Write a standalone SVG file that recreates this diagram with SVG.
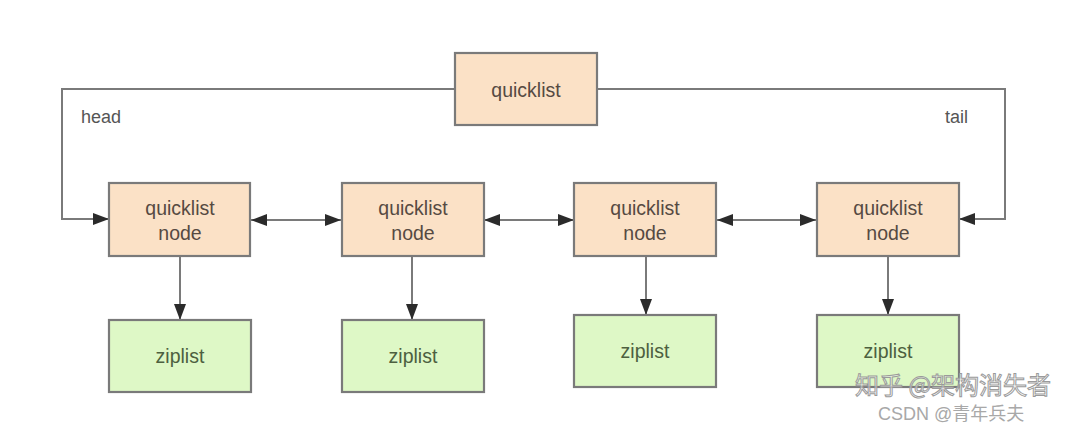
<svg xmlns="http://www.w3.org/2000/svg" width="1080" height="431" viewBox="0 0 1080 431">
<defs>
<marker id="arr" viewBox="0 0 16 12" refX="16" refY="6" markerWidth="16" markerHeight="12" markerUnits="userSpaceOnUse" orient="auto-start-reverse">
<path d="M0,0 L16,6 L0,12 Z" fill="#2b2b2b"/>
</marker>
<style>
.qn{fill:#fbe1c6;stroke:#7a7a7a;stroke-width:2.2}
.zl{fill:#def8c6;stroke:#7a7a7a;stroke-width:2.2}
.t{font-family:"Liberation Sans",Arial,sans-serif;font-size:19.5px;fill:#564a42;text-anchor:middle}
.zt{font-family:"Liberation Sans",Arial,sans-serif;font-size:19.5px;fill:#4d6040;text-anchor:middle}
.lb{font-family:"Liberation Sans",Arial,sans-serif;font-size:18px;fill:#555}
.c{fill:none;stroke:#7a7a7a;stroke-width:2}
</style>
</defs>
<rect width="1080" height="431" fill="#ffffff"/>
<g id="connectors">
<path class="c" d="M455,89 H62 V219 H109" marker-end="url(#arr)"/>
<path class="c" d="M597,89 H1005 V219 H959" marker-end="url(#arr)"/>
<line class="c" x1="251" y1="220" x2="341" y2="220" marker-start="url(#arr)" marker-end="url(#arr)"/>
<line class="c" x1="484" y1="220" x2="574" y2="220" marker-start="url(#arr)" marker-end="url(#arr)"/>
<line class="c" x1="717" y1="220" x2="816" y2="220" marker-start="url(#arr)" marker-end="url(#arr)"/>
<line class="c" x1="180" y1="257" x2="180" y2="320" marker-end="url(#arr)"/>
<line class="c" x1="412" y1="257" x2="412" y2="320" marker-end="url(#arr)"/>
<line class="c" x1="646" y1="257" x2="646" y2="315" marker-end="url(#arr)"/>
<line class="c" x1="888" y1="257" x2="888" y2="315" marker-end="url(#arr)"/>
<text class="lb" x="81" y="123">head</text>
<text class="lb" x="945" y="123">tail</text>
</g>
<g id="quicklist">
<rect class="qn" x="455" y="53" width="142" height="72"/>
<text class="t" x="526" y="97">quicklist</text>
</g>
<g id="node1">
<rect class="qn" x="109" y="183" width="141" height="73"/>
<text class="t" x="180" y="215">quicklist</text>
<text class="t" x="180" y="240">node</text>
</g>
<g id="node2">
<rect class="qn" x="342" y="183" width="142" height="73"/>
<text class="t" x="413" y="215">quicklist</text>
<text class="t" x="413" y="240">node</text>
</g>
<g id="node3">
<rect class="qn" x="574" y="183" width="142" height="73"/>
<text class="t" x="645" y="215">quicklist</text>
<text class="t" x="645" y="240">node</text>
</g>
<g id="node4">
<rect class="qn" x="817" y="183" width="142" height="73"/>
<text class="t" x="888" y="215">quicklist</text>
<text class="t" x="888" y="240">node</text>
</g>
<g id="ziplist1">
<rect class="zl" x="109" y="320" width="142" height="72"/>
<text class="zt" x="180" y="363">ziplist</text>
</g>
<g id="ziplist2">
<rect class="zl" x="342" y="320" width="142" height="72"/>
<text class="zt" x="413" y="363">ziplist</text>
</g>
<g id="ziplist3">
<rect class="zl" x="574" y="315" width="142" height="72"/>
<text class="zt" x="645" y="358">ziplist</text>
</g>
<g id="ziplist4">
<rect class="zl" x="817" y="315" width="142" height="72"/>
<text class="zt" x="888" y="358">ziplist</text>
</g>
<g id="watermark">
<text x="855" y="394" font-family="'Noto Sans CJK SC',sans-serif" font-size="24" fill="#ffffff" fill-opacity="0.6" stroke="#9a9a9a" stroke-width="1">知乎 @架构消失者</text>
<text x="878" y="420" font-family="'Liberation Sans','Noto Sans CJK SC',sans-serif" font-size="18" fill="#a8a8a8">CSDN @青年兵夫</text>
</g>
</svg>
